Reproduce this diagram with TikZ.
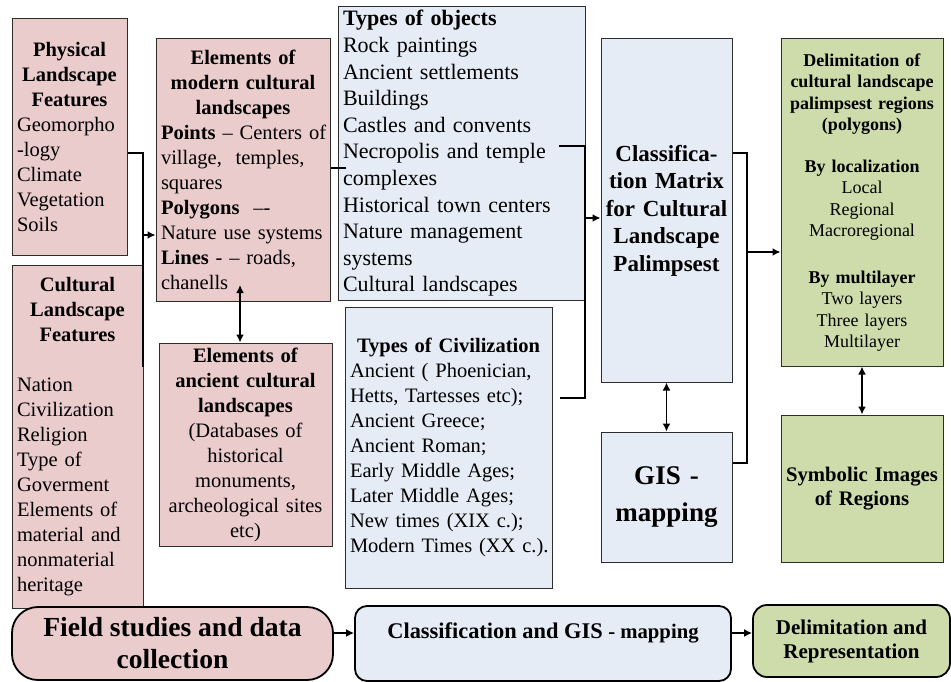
\documentclass[tikz,border=0pt]{standalone}
\usepackage{fontspec}
\setmainfont{Liberation Serif}
\usetikzlibrary{arrows.meta}
\definecolor{pinkfill}{RGB}{235,204,204}
\definecolor{bluefill}{RGB}{230,236,246}
\definecolor{greenfill}{RGB}{206,220,171}
\definecolor{edge}{RGB}{45,45,45}

\begin{document}
\begin{tikzpicture}[x=1pt,y=-1pt,
  box/.style={draw=edge, line width=1pt, inner xsep=5pt, inner ysep=0pt, align=left},
  cbox/.style={inner xsep=0pt, align=center},
  pinkbox/.style={box, fill=pinkfill},
  bluebox/.style={box, fill=bluefill},
  greenbox/.style={box, fill=greenfill},
  stage/.style={draw=black, line width=1.8pt, inner sep=0pt, align=center},
  fA/.style={font=\fontsize{20.5}{25}\selectfont},
  fB/.style={font=\fontsize{22}{26.6}\selectfont},
  conn/.style={line width=1.8pt},
  arr/.style={conn, -{Latex[length=8pt,width=8pt]}},
  dbl/.style={conn, {Latex[length=8pt,width=8pt]}-{Latex[length=8pt,width=8pt]}},
]
\useasboundingbox (0,0) rectangle (951,682);

% ---- left column: landscape features
\node[pinkbox, fA, minimum width=115, minimum height=236, text width=105] (phys) at (69.5,137)
  {{\centering\bfseries Physical\\ Landscape\\ Features\par}Geomorpho\\ -logy\\ Climate\\ Vegetation\\ Soils};
\node[pinkbox, fA, minimum width=131, minimum height=343, text width=121] (cult) at (77.5,436.5)
  {{\centering\bfseries Cultural\\ Landscape\\ Features\par}\vspace{25pt}Nation\\ Civilization\\ Religion\\ Type of\\ Goverment\\ Elements of\\ \mbox{material and}\\ nonmaterial\\ heritage};

% ---- elements of cultural landscapes
\node[pinkbox, fA, minimum width=174, minimum height=262, text width=164] (modern) at (243,170)
  {{\centering\bfseries Elements of\\ modern cultural\\ landscapes\par}\mbox{\textbf{Points} – Centers of}\\ \mbox{village,\ \ temples,}\\ squares\\ \mbox{\textbf{Polygons}\ \ –-}\\ \mbox{Nature use systems}\\ \mbox{\textbf{Lines} - – roads,}\\ chanells};
\node[pinkbox, fA, cbox, minimum width=173, minimum height=203, text width=173] (ancient) at (245.5,444.5)
  {\textbf{Elements of}\\ \textbf{ancient cultural}\\ \textbf{landscapes}\\ (Databases of\\ historical\\ monuments,\\ archeological sites\\ etc)};

% ---- types of objects and civilizations
\node[bluebox, fB, minimum width=247, minimum height=293, text width=237] (objects) at (461.5,153.5)
  {\textbf{Types of objects}\\ Rock paintings\\ Ancient settlements\\ Buildings\\ Castles and convents\\ \mbox{Necropolis and temple}\\ complexes\\ \mbox{Historical town centers}\\ \mbox{Nature management}\\ systems\\ Cultural landscapes};
\node[bluebox, fA, minimum width=207, minimum height=281, text width=197] (civ) at (448.5,447.5)
  {{\centering\bfseries Types of Civilization\par}\mbox{Ancient ( Phoenician,}\\ \mbox{Hetts, Tartesses etc);}\\ Ancient Greece;\\ Ancient Roman;\\ \mbox{Early Middle Ages;}\\ \mbox{Later Middle Ages;}\\ \mbox{New times (XIX c.);}\\ \mbox{Modern Times (XX c.).}};

% ---- classification and mapping
\node[bluebox, cbox, font=\fontsize{23}{27.5}\selectfont\bfseries, minimum width=131, minimum height=343, text width=131] (matrix) at (666.5,210.5)
  {Classifica-\\ tion Matrix\\ for Cultural\\ Landscape\\ Palimpsest};
\node[bluebox, cbox, font=\fontsize{27}{37}\selectfont\bfseries, minimum width=131, minimum height=130, text width=131] (gis) at (666.5,497)
  {GIS -\\ mapping};

% ---- delimitation and representation
\node[greenbox, cbox, font=\fontsize{18}{21.5}\selectfont, minimum width=162, minimum height=327, text width=162] (delim) at (862,202.5)
  {\textbf{Delimitation of}\\ \textbf{cultural landscape}\\ \textbf{palimpsest regions}\\ \textbf{(polygons)}\\[20pt] \textbf{By localization}\\ Local\\ Regional\\ Macroregional\\[25pt] \textbf{By multilayer}\\ Two layers\\ Three layers\\ Multilayer};
\node[greenbox, cbox, font=\fontsize{20.7}{24}\selectfont\bfseries, minimum width=162, minimum height=147, text width=162] (symb) at (862,488.5)
  {Symbolic Images\\ of Regions};

% ---- bottom row: research stages
\node[stage, fill=pinkfill, rounded corners=26pt, minimum width=321, minimum height=73, font=\fontsize{27.6}{32}\selectfont\bfseries] (field) at (172.5,643.5)
  {Field studies and data\\ collection};
\node[stage, fill=bluefill, rounded corners=12pt, minimum width=376, minimum height=75] (classbot) at (543,643.5) {};
\node[inner sep=0pt, font=\bfseries] (classtext) at (543,633)
  {{\fontsize{22.4}{26}\selectfont Classification and GIS }{\fontsize{20.7}{26}\selectfont - mapping}};
\node[stage, fill=greenfill, rounded corners=14pt, minimum width=197, minimum height=72, font=\fontsize{21}{24}\selectfont\bfseries] (delbot) at (851.5,641)
  {Delimitation and\\ Representation};

% ---- connectors
\coordinate (p1) at (143,153);
\coordinate (p2) at (143,367);
\coordinate (p3) at (143,235);
\draw[conn] (phys.east |- p1) -- (p1) -- (p2);
\draw[arr] (p3) -- (p3 -| modern.west);

\coordinate (m1) at (346,168);
\draw[conn] (modern.east |- m1) -- (m1);

\coordinate (a1) at (240,285);
\draw[dbl] (a1) -- (a1 |- ancient.north);

\coordinate (o1) at (559,146);
\coordinate (o2) at (585,146);
\coordinate (o3) at (585,398);
\coordinate (o4) at (560,398);
\coordinate (o5) at (585,218);
\draw[conn] (o1) -- (o2) -- (o3) -- (o4);
\draw[arr] (o5) -- (o5 -| matrix.west);

\draw[dbl] (matrix.south) -- (gis.north);

\coordinate (c1) at (747,153);
\coordinate (c2) at (747,463);
\coordinate (c3) at (747,252);
\draw[conn] (matrix.east |- c1) -- (c1) -- (c2) -- (c2 -| gis.east);
\draw[arr] (c3) -- (c3 -| delim.west);

\draw[dbl] (delim.south) -- (symb.north);

\coordinate (b1) at (0,633);
\draw[arr] (field.east |- b1) -- (classbot.west |- b1);
\draw[arr] (classbot.east |- b1) -- (delbot.west |- b1);
\end{tikzpicture}
\end{document}
